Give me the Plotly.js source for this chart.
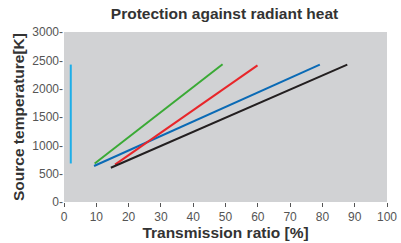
<!DOCTYPE html>
<html><head><meta charset="utf-8">
<script src="https://cdn.plot.ly/plotly-3.0.1.min.js"></script>
<style>html,body{margin:0;padding:0;background:#fff}#c{width:401px;height:243px}</style>
</head><body><div id="c"></div>
<script>
const seriesNames = ["Cyan", "Green", "Blue", "Red", "Black"];
const seriesColors = ["#1eaee8", "#3aaa35", "#0a6ab5", "#e8262a", "#231f20"];
const xCyan = [2.1, 2.1];   const yCyan = [680, 2425];
const xGreen = [9.5, 49.1]; const yGreen = [680, 2430];
const xBlue = [9.3, 79.2];  const yBlue = [635, 2425];
const xRed = [15.8, 59.9];  const yRed = [660, 2410];
const xBlack = [14.5, 87.7]; const yBlack = [605, 2425];
const xs = [xCyan, xGreen, xBlue, xRed, xBlack];
const ys = [yCyan, yGreen, yBlue, yRed, yBlack];
const xTicks = [0,10,20,30,40,50,60,70,80,90,100];
const yTicks = [0,500,1000,1500,2000,2500,3000];

const traces = xs.map((x,i)=>({x:x, y:ys[i], type:'scatter', mode:'lines', name:seriesNames[i],
  line:{color:seriesColors[i], width:2}, showlegend:false}));

const font = "Liberation Sans, Arial, sans-serif";
Plotly.newPlot('c', traces, {
  width:401, height:243,
  margin:{l:64, r:14, t:32, b:41, pad:0},
  paper_bgcolor:'#fff', plot_bgcolor:'#d1d2d4',
  font:{family:font, color:'#555', size:12},
  title:{text:'<b>Protection against radiant heat</b>', font:{family:font, size:15.5, color:'#333'}, x:0.56, xanchor:'center', y:0.945, yanchor:'middle'},
  xaxis:{range:[0,100], tickvals:xTicks, ticktext:xTicks.map(String), showgrid:false, zeroline:false,
    ticks:'outside', ticklen:4, tickcolor:'#555', tickwidth:1, showline:false, tickfont:{size:12, color:'#555'},
    title:{text:'<b>Transmission ratio [%]</b>', font:{size:15.5, color:'#333'}, standoff:1}},
  yaxis:{range:[0,3000], tickvals:yTicks, ticktext:yTicks.map(v=>v+'-'), showgrid:false, zeroline:false,
    ticks:'', showline:false, tickfont:{size:12, color:'#555'},
    title:{text:'<b>Source temperature[K]</b>', font:{size:15.5, color:'#333'}, standoff:3}}
}, {staticPlot:true, displayModeBar:false});
</script></body></html>
